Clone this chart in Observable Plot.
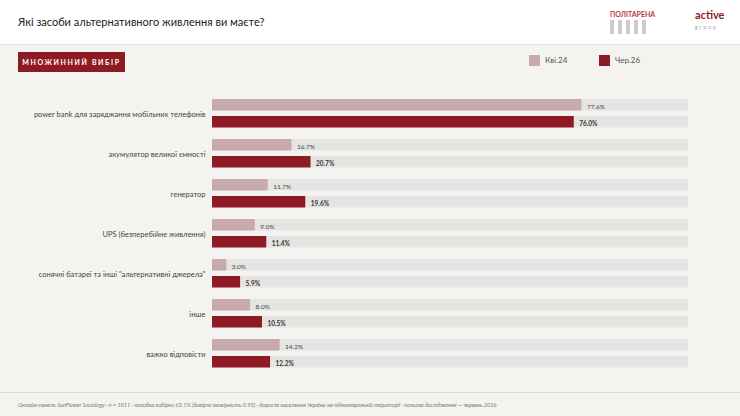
<!DOCTYPE html>
<html><head><meta charset="utf-8">
<script src="https://cdn.jsdelivr.net/npm/d3@7"></script>
<script src="https://cdn.jsdelivr.net/npm/@observablehq/plot@0.6"></script>
<style>
body{margin:0;width:740px;height:416px;background:#f4f3f0;font-family:Lato,sans-serif;position:relative;overflow:hidden}
#head{position:absolute;left:0;top:0;width:740px;height:44px;background:#fff;border-bottom:1px solid #e2e0dc}
#title{position:absolute;left:18px;top:15px;font-size:11px;color:#222}
#badge{position:absolute;left:18px;top:52px;width:107px;height:20px;background:#8e1b24;color:#fff;font-size:7px;font-weight:bold;letter-spacing:1.6px;line-height:20px;text-align:center}
.lg{position:absolute;top:55px;font-size:8px;color:#555}
.lg i{display:inline-block;width:11px;height:11px;vertical-align:middle;margin-right:5px}
#chart{position:absolute;left:0;top:92px}
#foot{position:absolute;left:0;top:392px;width:740px;border-top:1px solid #ddd;font-size:5.6px;font-style:italic;color:#777;padding:8px 0 0 18px}
#logo1{position:absolute;left:610px;top:10px;font-size:7px;font-weight:bold;color:#b23a3f}
#logo2{position:absolute;left:695px;top:10px;font-size:11px;font-weight:bold;color:#8e1b24;line-height:10px}
</style></head><body>
<div id="head"><div id="title">Які засоби альтернативного живлення ви маєте?</div>
<div id="logo1">ПОЛІТАРЕНА<div style="width:40px;height:14px;margin-top:2px;background:repeating-linear-gradient(90deg,#ccc 0 4px,transparent 4px 8px)"></div></div>
<div id="logo2">active<br><span style="font-size:5px;letter-spacing:2px;color:#999;font-weight:normal">group</span></div></div>
<div id="badge">МНОЖИННИЙ ВИБІР</div>
<div class="lg" style="left:529px"><i style="background:#c8aaae"></i>Кві.24</div>
<div class="lg" style="left:599px"><i style="background:#8e1b24"></i>Чер.26</div>
<div id="chart"></div>
<div id="foot">Онлайн-панель SunFlower Sociology · n = 1011 · похибка вибірки ±3.1% (довірча імовірність 0.95) · доросле населення України на підконтрольній території · польове дослідження — червень 2026</div>
<script>
const categories = ["power bank для заряджання мобільних телефонів","акумулятор великої ємності","генератор","UPS (безперебійне живлення)","сонячні батареї та інші \"альтернативні джерела\"","інше","важко відповісти"];
const apr24 = [77.6,16.7,11.7,9.0,3.0,8.0,14.2];
const jun26 = [76.0,20.7,19.6,11.4,5.9,10.5,12.2];
const a = categories.map((c,i)=>({c,v:apr24[i]}));
const b = categories.map((c,i)=>({c,v:jun26[i]}));
const f = d => d.v.toFixed(1)+"%";
document.getElementById("chart").append(Plot.plot({
  width:740,height:284,marginTop:0,marginBottom:0,marginLeft:212,marginRight:52,
  style:{background:"transparent",fontFamily:"Lato,sans-serif"},
  x:{domain:[0,100],axis:null},
  y:{domain:categories,padding:0,label:null,tickSize:0,tickPadding:7},
  marks:[
    Plot.barX(categories,{x1:0,x2:100,y:d=>d,fill:"#e5e4e2",insetTop:5,insetBottom:23.5}),
    Plot.barX(categories,{x1:0,x2:100,y:d=>d,fill:"#e5e4e2",insetTop:22,insetBottom:6.5}),
    Plot.barX(a,{x:"v",y:"c",fill:"#c8aaae",insetTop:5,insetBottom:23.5}),
    Plot.barX(b,{x:"v",y:"c",fill:"#8e1b24",insetTop:22,insetBottom:6.5}),
    Plot.text(a,{x:"v",y:"c",text:f,dx:5,dy:-8,textAnchor:"start",fontSize:6.5,fill:"#444"}),
    Plot.text(b,{x:"v",y:"c",text:f,dx:5,dy:9,textAnchor:"start",fontSize:6.5,fontWeight:"bold",fill:"#333"}),
    Plot.axisY({tickSize:0,tickPadding:7,fontSize:7.5,color:"#444",label:null})
  ]
}));
</script>
</body></html>
